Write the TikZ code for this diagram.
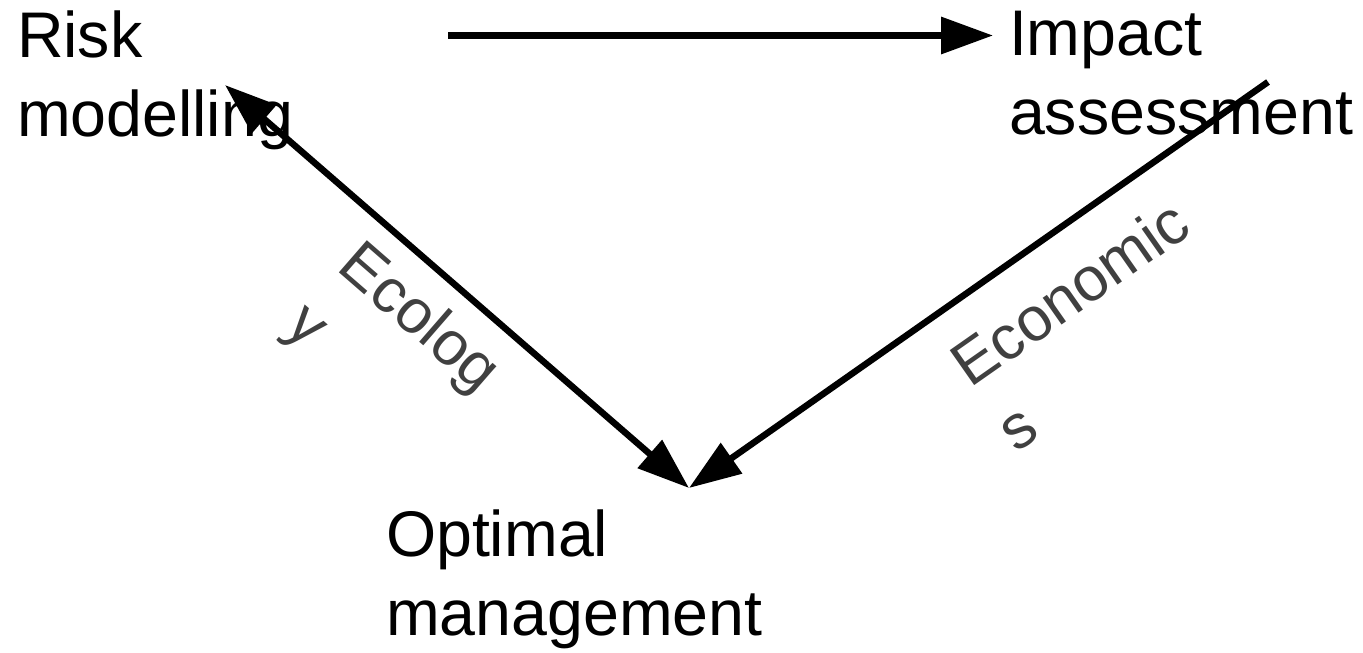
\documentclass[tikz,border=0pt]{standalone}
\usepackage{fontspec}
\setmainfont{Liberation Sans}
\usetikzlibrary{arrows.meta}
\definecolor{labelgray}{RGB}{64,64,64}
\begin{document}
\begin{tikzpicture}[x=1pt,y=-1pt,
  stage/.style={inner sep=0pt, outer sep=0pt, align=left, anchor=north west,
    font=\fontsize{64.5}{79}\selectfont},
  flowlabel/.style={inner sep=0pt, outer sep=0pt, align=left, anchor=north west,
    text=labelgray, font=\fontsize{62}{79}\selectfont},
  bigtip/.tip={Triangle[length=52pt,width=36pt]},
  flow/.style={line width=6.5pt, -bigtip},
  twoway/.style={line width=6.5pt, bigtip-bigtip},
  ]
\useasboundingbox (0,0) rectangle (1363,653);

% the three stages
\node[stage] (risk) at (17,11) {Risk\\modelling};
\node[stage] (impact) at (1009,11) {Impact\\assessment};
\node[stage] (optimal) at (386,510) {Optimal\\management};

% labels along the diagonal flows
\node[flowlabel, rotate=-41] (ecology) at (365,236) {Ecolog\\y};
\node[flowlabel, rotate=35] (economics) at (945,352) {Economic\\s};

% connector end points
\coordinate (riskout) at (448,35.5);
\coordinate (impactin) at (993,35.5);
\coordinate (riskin) at (225,85);
\coordinate (mgmtin) at (689,488);
\coordinate (impactout) at (1268,82);

% flows
\draw[flow] (riskout) -- (impactin);
\draw[twoway] (mgmtin) -- (riskin);
\draw[flow] (impactout) -- (mgmtin);
\end{tikzpicture}
\end{document}
